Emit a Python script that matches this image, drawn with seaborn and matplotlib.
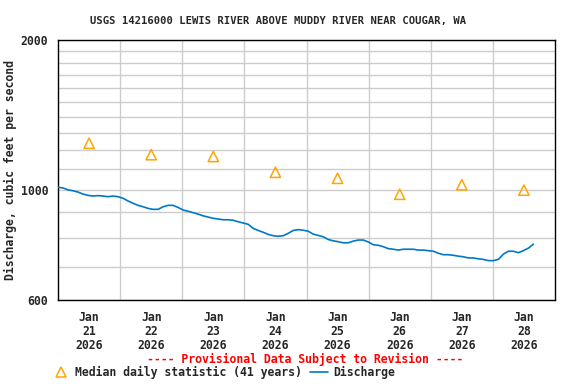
import pandas as pd
import matplotlib
matplotlib.use("Agg")
import matplotlib.pyplot as plt
import matplotlib.dates as mdates
from matplotlib.ticker import FixedLocator, FixedFormatter, NullFormatter
from matplotlib.lines import Line2D
import seaborn as sns

# discharge, cfs, every ~116 minutes from Jan 21 00:00
discharge = [
    1011, 1008, 999, 995, 989, 980, 974, 971, 973, 971,
    968, 971, 968, 961, 949, 939, 930, 924, 917, 913,
    913, 924, 930, 930, 921, 910, 905, 899, 893, 886,
    881, 876, 873, 870, 870, 868, 862, 857, 852, 836,
    828, 821, 813, 808, 806, 808, 817, 828, 831, 829,
    825, 814, 809, 804, 794, 789, 786, 782, 782, 788,
    792, 792, 785, 775, 773, 768, 761, 759, 756, 759,
    759, 759, 756, 756, 754, 752, 745, 740, 740, 738,
    735, 733, 729, 729, 726, 724, 720, 720, 724, 742,
    752, 752, 747, 754, 763, 777,
]
median_days = ["2026-01-21", "2026-01-22", "2026-01-23", "2026-01-24",
               "2026-01-25", "2026-01-26", "2026-01-27", "2026-01-28"]
median_vals = [1240, 1176, 1166, 1084, 1054, 979, 1023, 998]

flow = pd.DataFrame({
    "time": pd.date_range("2026-01-21 00:00", periods=len(discharge), freq="116min"),
    "cfs": discharge,
})
med = pd.DataFrame({
    "time": pd.to_datetime(median_days) + pd.Timedelta(hours=12),
    "cfs": median_vals,
})

sns.set_style("white")
plt.rcParams["font.family"] = ["DejaVu Sans Mono"]
plt.rcParams["font.weight"] = "bold"
plt.rcParams["font.size"] = 8.3

blue = "#0078c8"
orange = "#ffa500"

fig = plt.figure(figsize=(5.76, 3.84), dpi=100)
ax = fig.add_axes([58 / 576, 1 - 300 / 384, 497 / 576, 260 / 384])

sns.lineplot(data=flow, x="time", y="cfs", ax=ax, color=blue, linewidth=1.2, zorder=3)
sns.scatterplot(data=med, x="time", y="cfs", ax=ax, marker="^", s=55,
                fc="none", ec=orange, linewidth=1.1, zorder=4)

ax.set_yscale("log")
ax.set_ylim(600, 2000)
ax.yaxis.set_major_locator(FixedLocator([600, 1000, 2000]))
ax.yaxis.set_major_formatter(FixedFormatter(["600", "1000", "2000"]))
ax.yaxis.set_minor_locator(FixedLocator(list(range(700, 2000, 100))))
ax.yaxis.set_minor_formatter(NullFormatter())

ax.set_xlim(pd.Timestamp("2026-01-21"), pd.Timestamp("2026-01-29"))
noon = med["time"]
ax.xaxis.set_major_locator(FixedLocator(mdates.date2num(noon)))
ax.set_xticklabels([t.strftime("%b\n%d\n%Y") for t in noon])
ax.xaxis.set_minor_locator(FixedLocator(mdates.date2num(
    pd.date_range("2026-01-22", "2026-01-28", freq="D"))))

ax.grid(False)
ax.grid(which="minor", color="#cccccc", linewidth=1)
ax.yaxis.grid(which="major", color="#cccccc", linewidth=1)
ax.tick_params(which="both", length=0)
ax.tick_params(axis="y", pad=7)
ax.tick_params(axis="x", pad=8)
for lab in ax.get_xticklabels():
    lab.set_linespacing(1.1)
for s in ax.spines.values():
    s.set_color("black")
    s.set_linewidth(1)

ax.set_xlabel("")
ax.set_ylabel("Discharge, cubic feet per second", fontweight="bold")
ax.yaxis.set_label_coords(-0.083, 0.5)

fig.text(278 / 576, 1 - 24 / 384, "USGS 14216000 LEWIS RIVER ABOVE MUDDY RIVER NEAR COUGAR, WA",
         ha="center", va="baseline", fontsize=7.6, fontweight="bold")
fig.text(305.5 / 576, 1 - 362.5 / 384, "---- Provisional Data Subject to Revision ----",
         ha="center", va="baseline", color="red", fontweight="bold")

handles = [
    Line2D([], [], linestyle="none", marker="^", markersize=7, markerfacecolor="none",
           markeredgecolor=orange, markeredgewidth=1.1),
    Line2D([], [], color=blue, linewidth=1.2),
]
fig.legend(handles, ["Median daily statistic (41 years)", "Discharge"],
           loc="center left", bbox_to_anchor=(51.8 / 576, 1 - 372 / 384), ncol=2,
           frameon=False, borderpad=0, borderaxespad=0, handlelength=1.56,
           handletextpad=0.45, columnspacing=0.7, prop={"size": 8.3, "weight": "bold"})

fig.savefig("out.png", dpi=100)
